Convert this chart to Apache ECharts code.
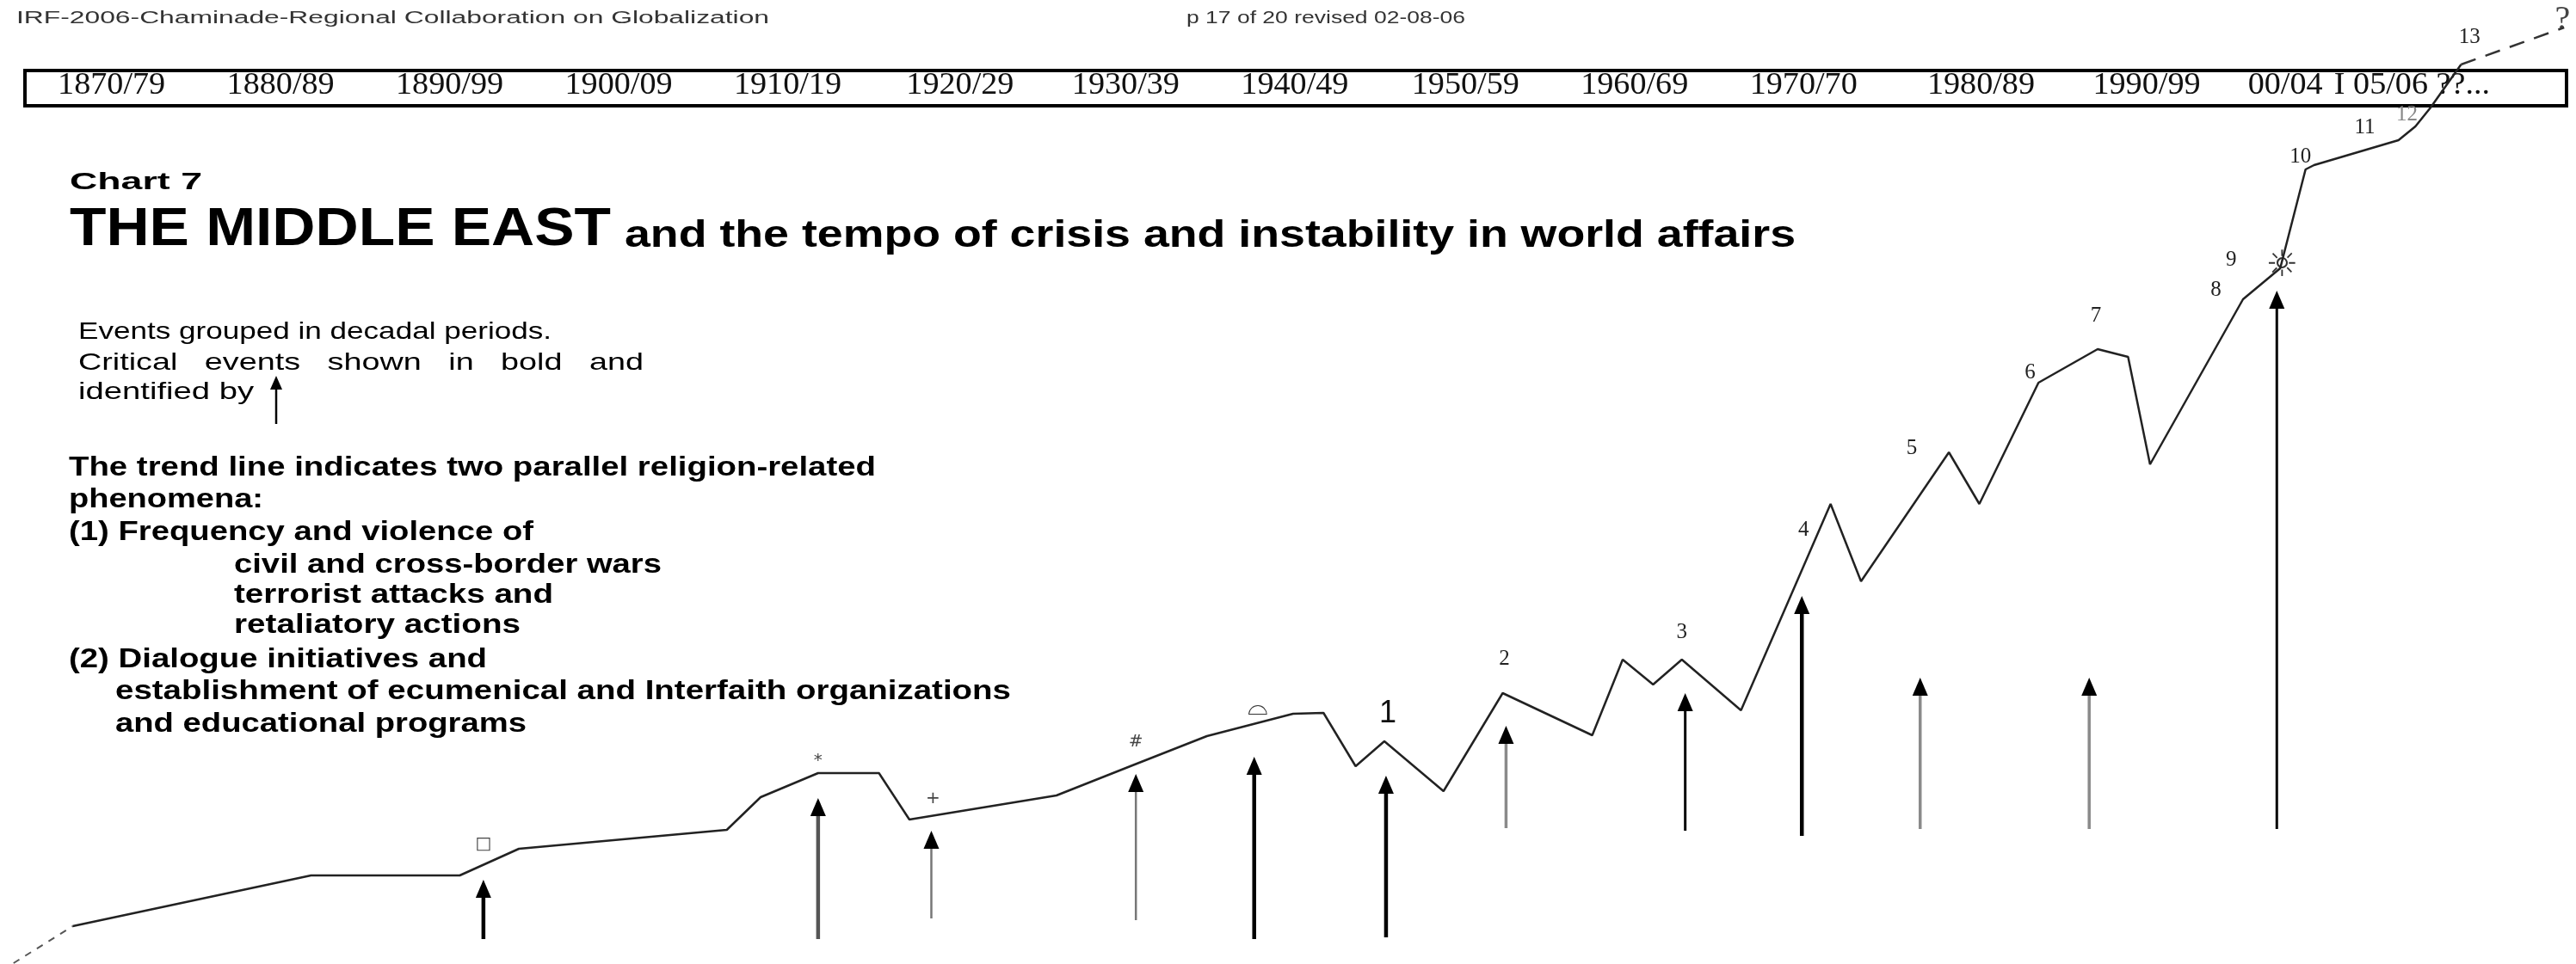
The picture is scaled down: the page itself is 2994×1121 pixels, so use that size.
<!DOCTYPE html>
<html>
<head>
<meta charset="utf-8">
<title>Chart 7 - The Middle East</title>
<script src="https://cdn.jsdelivr.net/npm/echarts@6/dist/echarts.min.js"></script>
<style>
  html, body { margin: 0; padding: 0; background: #fff; }
  #chart { width: 2994px; height: 1121px; }
</style>
</head>
<body>
<div id="chart"></div>
<script>
// 趋势线：x 为年份刻度，y 为"紧张程度"（图上读数）
const trendYears = [1872.7, 1886.8, 1895.6, 1899.1, 1911.4, 1913.4, 1916.8, 1920.4, 1922.2, 1930.9,
  1935.4, 1939.8, 1944.9, 1946.7, 1948.6, 1950.3, 1953.8, 1957.3, 1962.6, 1964.4,
  1966.2, 1967.9, 1971.4, 1976.7, 1978.5, 1983.7, 1985.5, 1989.0, 1992.5, 1994.3,
  1995.6, 2001.1, 2003.3, 2004.8, 2005.3, 2010.3, 2011.3, 2012.2, 2013.1, 2014.0];
const trendLevels = [4.4, 10.3, 10.3, 13.4, 15.6, 19.4, 22.2, 22.2, 16.8, 19.6,
  23.1, 26.5, 29.1, 29.2, 23.0, 25.9, 20.1, 31.5, 26.6, 35.4,
  32.5, 35.4, 29.5, 53.5, 44.5, 59.5, 53.5, 67.6, 71.5, 70.6,
  58.1, 77.3, 80.9, 92.4, 92.9, 95.8, 97.4, 99.6, 102.1, 104.6];
// 虚线部分：起点之前 / 终点之后
const leadYears = [1869.2, 1872.7];
const leadLevels = [0.1, 4.4];
const outlookYears = [2014.0, 2020.1];
const outlookLevels = [104.6, 108.9];

// 事件标记
const eventMarks = ['□', '*', '+', '#', '⌓', '1', '2', '3', '4', '5', '6', '7', '8', '9', '☼', '10', '11', '12', '13', '?'];
const eventYears = [1897.0, 1916.8, 1923.6, 1935.6, 1942.8, 1950.5, 1957.4, 1967.9, 1975.1, 1981.5,
  1988.5, 1992.4, 1999.5, 2000.4, 2003.4, 2004.5, 2008.3, 2010.8, 2014.5, 2020.0];
const eventLevels = [13.9, 23.6, 19.2, 25.8, 29.8, 29.1, 35.5, 38.6, 50.5, 60.0,
  68.8, 75.4, 78.4, 81.9, 81.1, 93.9, 97.3, 98.8, 107.8, 109.8];

// 关键事件箭头
const arrowYears = [1897.0, 1916.8, 1923.5, 1935.6, 1942.6, 1950.4, 1957.5, 1968.1, 1975.0, 1982.0, 1992.0, 2003.1];
const arrowTops = [9.8, 19.3, 15.5, 22.1, 24.1, 21.9, 27.7, 31.5, 42.8, 33.3, 33.3, 78.3];
const arrowBases = [2.9, 2.9, 5.3, 5.1, 2.9, 3.1, 15.8, 15.5, 14.9, 15.7, 15.7, 15.7];
const arrowKinds = ['bold', 'dark', 'gray', 'gray', 'bold', 'bold', 'light', 'thin', 'bold', 'light', 'light', 'thin'];

// 顶部的年代栏
const periodLabels = ['1870/79', '1880/89', '1890/99', '1900/09', '1910/19', '1920/29', '1930/39', '1940/49',
  '1950/59', '1960/69', '1970/70', '1980/89', '1990/99', '00/04', 'I 05/06 ??...'];
const periodCenters = [1875, 1885, 1895, 1905, 1915, 1925.2, 1935, 1945,
  1955.1, 1965.1, 1975.1, 1985.6, 1995.4, 2003.6, 2011.1];

const SANS = '"Liberation Sans", Arial, sans-serif';
const SERIF = '"Liberation Serif", "Times New Roman", serif';

// 箭杆样式（箭头一律黑色）
const arrowStyle = {
  bold: { color: '#000', width: 4.5 },
  dark: { color: '#555', width: 4.5 },
  gray: { color: '#777', width: 2.5 },
  light: { color: '#8a8a8a', width: 3.5 },
  thin: { color: '#000', width: 3 },
};

function markStyle(m) {
  if (m === '1') return { size: 36, family: SANS, color: '#111' };
  if (m === '?') return { size: 40, family: SERIF, color: '#444' };
  if (m === '☼') return { size: 42, family: '"DejaVu Sans"', color: '#333' };
  if (m === '⌓') return { size: 30, family: '"DejaVu Sans"', color: '#333' };
  if (/^\d+$/.test(m)) return { size: 25, family: SERIF, color: m === '12' ? '#888' : '#222' };
  return { size: 20, family: '"DejaVu Sans"', color: '#444' };
}

// 量一下文字宽度，按参考图横向拉伸
const measureCtx = document.createElement('canvas').getContext('2d');
function fitText(text, left, right, baseline, size, weight, color) {
  measureCtx.font = weight + ' ' + size + 'px ' + SANS;
  const w = measureCtx.measureText(text).width;
  return {
    type: 'text',
    x: left,
    y: baseline - size * 0.35,
    scaleX: (right - left) / w,
    style: {
      text: text,
      fontSize: size,
      fontWeight: weight,
      fontFamily: SANS,
      fill: color || '#000',
      align: 'left',
      verticalAlign: 'middle',
    },
  };
}

const zip = (xs, ys) => xs.map((x, i) => [x, ys[i]]);

const myChart = echarts.init(document.getElementById('chart'));

const option = {
  animation: false,
  backgroundColor: '#fff',
  grid: { left: 0, right: 0, top: 0, bottom: 0 },
  xAxis: { type: 'value', min: 1868.4, max: 2020.8, show: false },
  yAxis: { type: 'value', min: 0, max: 112.1, show: false },
  graphic: [
    fitText('IRF-2006-Chaminade-Regional Collaboration on Globalization', 19, 894, 28, 20, 'normal', '#333'),
    fitText('p 17 of 20 revised 02-08-06', 1379, 1703, 28, 20, 'normal', '#333'),
    {
      type: 'rect',
      shape: { x: 29, y: 82, width: 2954, height: 41 },
      style: { fill: 'none', stroke: '#000', lineWidth: 4 },
    },
    fitText('Chart 7', 81, 235, 222, 27, 'bold'),
    fitText('THE MIDDLE EAST', 81, 710, 290, 63, 'bold'),
    fitText('and the tempo of crisis and instability in world affairs', 726, 2087, 290, 44, 'bold'),
    fitText('Events grouped in decadal periods.', 91, 641, 396, 28, 'normal'),
    fitText('Critical   events   shown   in   bold   and', 91, 748, 432, 28, 'normal'),
    fitText('identified by', 91, 295, 466, 28, 'normal'),
    // 说明文字里的小箭头
    {
      type: 'group',
      children: [
        { type: 'line', shape: { x1: 321, y1: 493, x2: 321, y2: 450 }, style: { stroke: '#000', lineWidth: 2.5 } },
        { type: 'polygon', shape: { points: [[321, 437], [314, 453], [328, 453]] }, style: { fill: '#000' } },
      ],
    },
    fitText('The trend line indicates two parallel religion-related', 80, 1018, 555, 32, 'bold'),
    fitText('phenomena:', 80, 306, 592, 32, 'bold'),
    fitText('(1) Frequency and violence of', 80, 620, 630, 32, 'bold'),
    fitText('civil and cross-border wars', 272, 769, 668, 32, 'bold'),
    fitText('terrorist attacks and', 272, 643, 703, 32, 'bold'),
    fitText('retaliatory actions', 272, 605, 738, 32, 'bold'),
    fitText('(2) Dialogue initiatives and', 80, 566, 778, 32, 'bold'),
    fitText('establishment of ecumenical and Interfaith organizations', 134, 1175, 815, 32, 'bold'),
    fitText('and educational programs', 134, 612, 853, 32, 'bold'),
  ],
  series: [
    {
      name: 'lead',
      type: 'line',
      data: zip(leadYears, leadLevels),
      showSymbol: false,
      silent: true,
      lineStyle: { color: '#555', width: 2, type: [8, 8] },
    },
    {
      name: 'trend',
      type: 'line',
      data: zip(trendYears, trendLevels),
      showSymbol: false,
      silent: true,
      z: 3,
      lineStyle: { color: '#222', width: 2.5 },
    },
    {
      name: 'outlook',
      type: 'line',
      data: zip(outlookYears, outlookLevels),
      showSymbol: false,
      silent: true,
      lineStyle: { color: '#333', width: 2.5, type: [18, 12] },
    },
    {
      name: 'arrows',
      type: 'custom',
      silent: true,
      encode: { x: 0, y: [1, 2] },
      data: arrowYears.map((x, i) => [x, arrowTops[i], arrowBases[i]]),
      renderItem: function (params, api) {
        const st = arrowStyle[arrowKinds[params.dataIndex]];
        const base = api.coord([api.value(0), api.value(2)]);
        const tip = api.coord([api.value(0), api.value(1)]);
        const headH = 21, headW = 9;
        return {
          type: 'group',
          children: [
            {
              type: 'line',
              shape: { x1: tip[0], y1: base[1], x2: tip[0], y2: tip[1] + headH - 2 },
              style: { stroke: st.color, lineWidth: st.width },
            },
            {
              type: 'polygon',
              shape: { points: [[tip[0], tip[1]], [tip[0] - headW, tip[1] + headH], [tip[0] + headW, tip[1] + headH]] },
              style: { fill: '#000' },
            },
          ],
        };
      },
    },
    {
      name: 'periods',
      type: 'custom',
      silent: true,
      z: 1,
      data: periodCenters.map((x) => [x, 102.1]),
      renderItem: function (params, api) {
        const p = api.coord([api.value(0), api.value(1)]);
        return {
          type: 'text',
          x: p[0],
          y: p[1],
          scaleX: 1.06,
          style: {
            text: periodLabels[params.dataIndex],
            fontSize: 36,
            fontFamily: SERIF,
            fill: '#111',
            align: 'center',
            verticalAlign: 'middle',
          },
        };
      },
    },
    {
      name: 'events',
      type: 'custom',
      silent: true,
      data: zip(eventYears, eventLevels),
      renderItem: function (params, api) {
        const m = eventMarks[params.dataIndex];
        const st = markStyle(m);
        const p = api.coord([api.value(0), api.value(1)]);
        return {
          type: 'text',
          x: p[0],
          y: p[1],
          style: {
            text: m,
            fontSize: st.size,
            fontFamily: st.family,
            fill: st.color,
            align: 'center',
            verticalAlign: 'middle',
          },
        };
      },
    },
  ],
};

myChart.setOption(option);

window.addEventListener('resize', function () {
  myChart.resize();
});
</script>
</body>
</html>
